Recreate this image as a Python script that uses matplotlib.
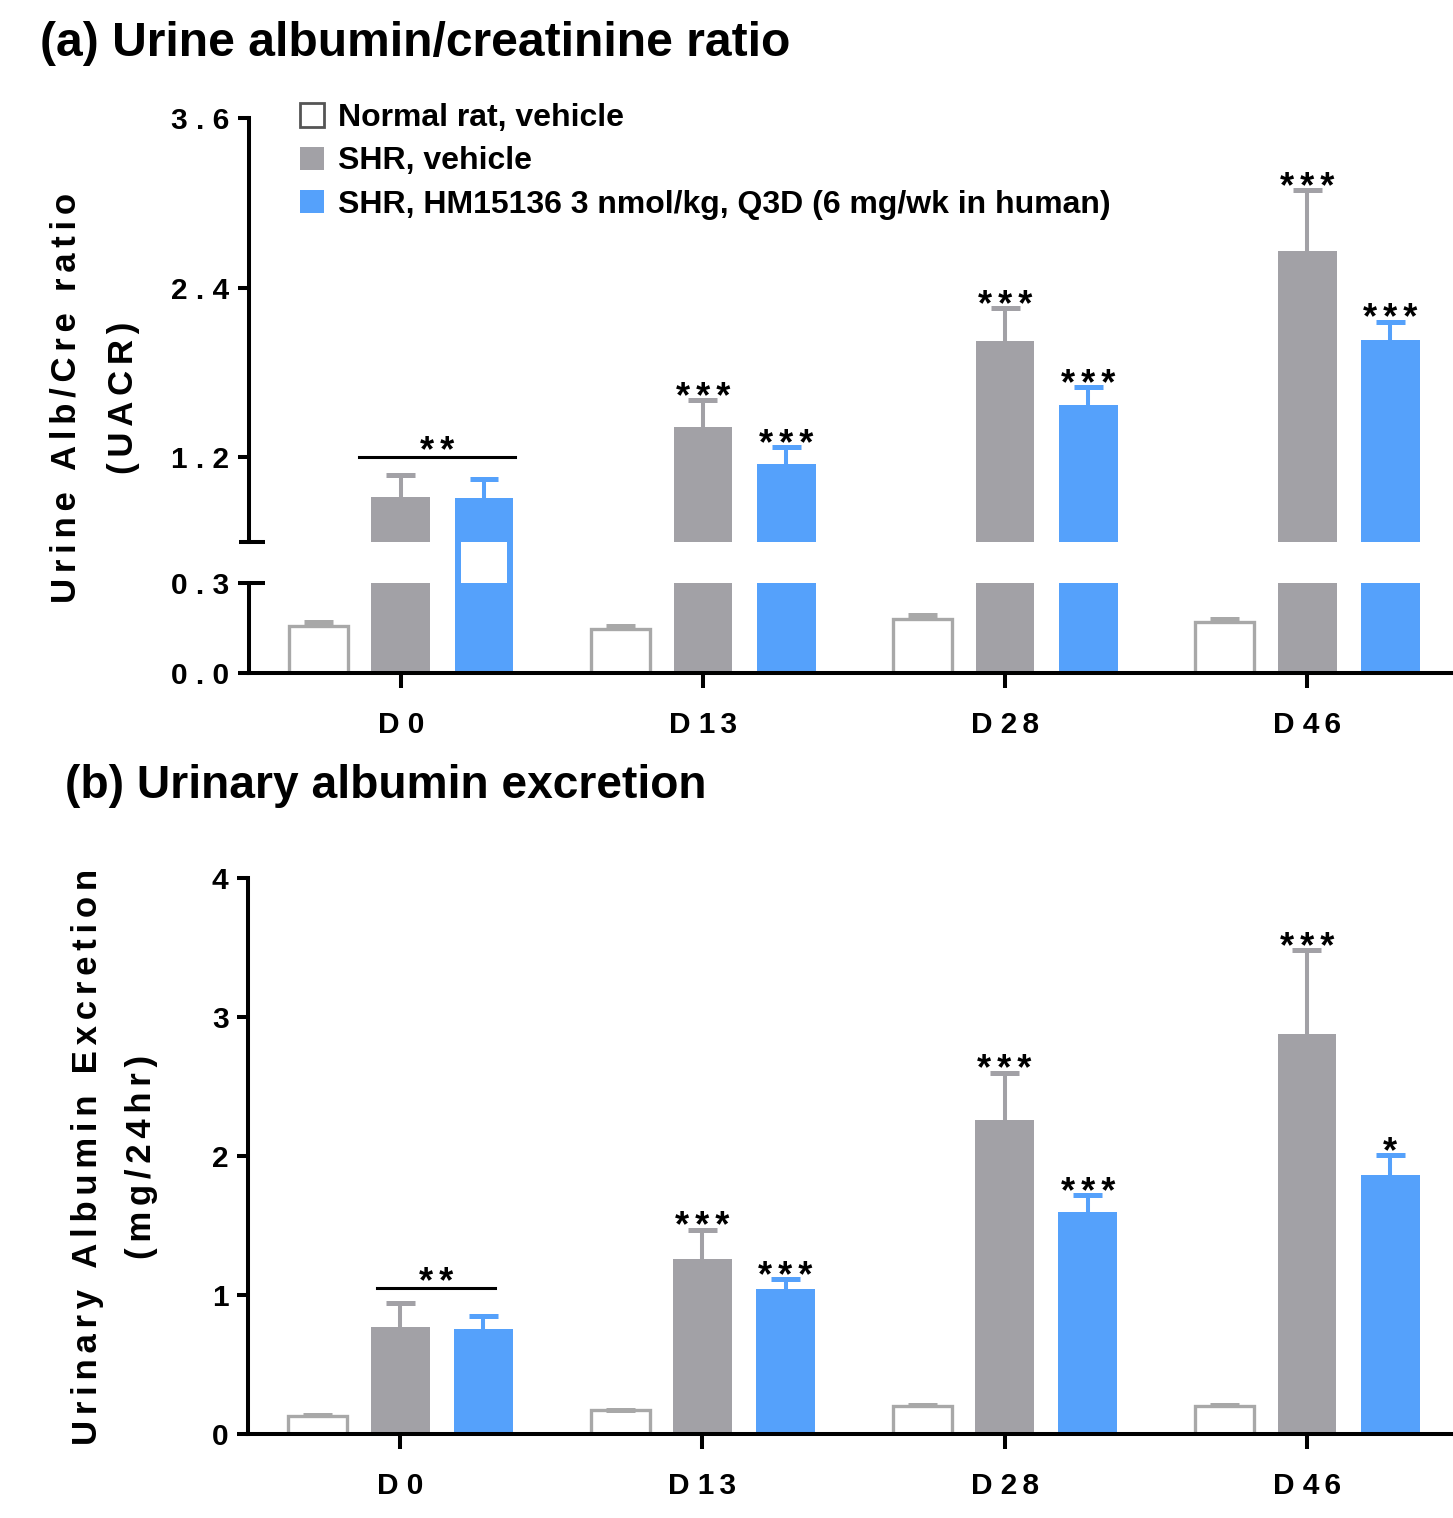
import matplotlib
matplotlib.use("Agg")
import matplotlib.pyplot as plt
import numpy as np
from matplotlib.patches import Patch

plt.rcParams["font.family"] = ["Liberation Sans", "DejaVu Sans"]

SIXTH = "\u2006"

days = ["D 0", "D 1" + SIXTH + "3", "D 2" + SIXTH + "8", "D 4" + SIXTH + "6"]
groups = ["Normal rat, vehicle", "SHR, vehicle",
          "SHR, HM15136 3 nmol/kg, Q3D (6 mg/wk in human)"]

# (a) urine albumin/creatinine ratio, mean and upper SEM
uacr_normal = [0.157, 0.147, 0.179, 0.170]
uacr_normal_err = [0.012, 0.010, 0.014, 0.011]
uacr_shr = [0.917, 1.412, 2.02, 2.66]
uacr_shr_err = [0.16, 0.19, 0.236, 0.43]
uacr_hm = [0.912, 1.15, 1.568, 2.032]
uacr_hm_err = [0.134, 0.12, 0.127, 0.127]
uacr_stars_shr = ["", "***", "***", "***"]
uacr_stars_hm = ["", "***", "***", "***"]
uacr_bracket = 1.2

# (b) urinary albumin excretion (mg/24hr)
uae_normal = [0.129, 0.17, 0.20, 0.20]
uae_normal_err = [0.009, 0.006, 0.010, 0.008]
uae_shr = [0.772, 1.26, 2.26, 2.875]
uae_shr_err = [0.172, 0.21, 0.34, 0.605]
uae_hm = [0.754, 1.045, 1.594, 1.863]
uae_hm_err = [0.095, 0.07, 0.126, 0.144]
uae_stars_shr = ["", "***", "***", "***"]
uae_stars_hm = ["", "***", "***", "*"]
uae_bracket = 1.05

GRAY = "#A2A1A6"
BLUE = "#55A1FB"
EDGE = "#A8A8A8"
W = 0.195
CAP = 0.096
OFF = [-0.272, 0.0, 0.275]
XLIM = (-0.503, 3.483)
FW, FH = 1453, 1518
LW = 2.9

x = np.arange(len(days))


def spaced(s, sep=SIXTH):
    return sep.join(s)


def draw_series(ax, xs, means, errs, face, line, edge=None):
    if edge:
        ax.bar(xs, means, W, color="white", edgecolor=edge, linewidth=2.4)
    else:
        ax.bar(xs, means, W, color=face, linewidth=0)
    # one-sided error bars, upper cap only
    tops = np.add(means, errs)
    ax.vlines(xs, means, tops, color=line, linewidth=2.9)
    ax.hlines(tops, xs - CAP / 2, xs + CAP / 2, color=line, linewidth=3.6)


def add_stars(ax, xs, tops, stars):
    for xi, top, s in zip(xs, tops, stars):
        if s:
            ax.annotate(spaced(s), (xi, top), xytext=(0, -5.5),
                        textcoords="offset points", ha="center",
                        va="baseline", fontsize=26, fontweight="bold")


def style(ax, bottom=True):
    for side in ("top", "right"):
        ax.spines[side].set_visible(False)
    ax.spines["left"].set_linewidth(LW)
    ax.spines["bottom"].set_linewidth(LW)
    ax.spines["bottom"].set_visible(bottom)
    ax.tick_params(axis="y", direction="out", length=8, width=LW, pad=6,
                   labelsize=21.5)
    ax.tick_params(axis="x", direction="out", length=10.5, width=LW, pad=17,
                   labelsize=21.5, bottom=bottom, labelbottom=bottom)
    for lab in ax.get_yticklabels() + ax.get_xticklabels():
        lab.set_fontweight("bold")
    ax.set_xlim(*XLIM)


fig = plt.figure(figsize=(FW / 100, FH / 100), dpi=100)
left_a = 249 / FW
ax_hi = fig.add_axes([left_a, 1 - 542 / FH, 1 - left_a, 424 / FH])
ax_lo = fig.add_axes([left_a, 1 - 673 / FH, 1 - left_a, 90 / FH])
left_b = 248 / FW
ax_b = fig.add_axes([left_b, 1 - 1434 / FH, 1 - left_b, 556 / FH])

# ---- panel (a), broken y axis
for ax in (ax_hi, ax_lo):
    draw_series(ax, x + OFF[0], uacr_normal, uacr_normal_err, "white", EDGE, edge=EDGE)
    draw_series(ax, x + OFF[1], uacr_shr, uacr_shr_err, GRAY, GRAY)
    draw_series(ax, x + OFF[2], uacr_hm, uacr_hm_err, BLUE, BLUE)

ax_hi.set_ylim(0.6, 3.6)
ax_lo.set_ylim(0, 0.3)
ax_hi.set_yticks([1.2, 2.4, 3.6])
ax_hi.set_yticklabels([" ".join(f"{v:.1f}") for v in (1.2, 2.4, 3.6)])
ax_lo.set_yticks([0.0, 0.3])
ax_lo.set_yticklabels([" ".join(f"{v:.1f}") for v in (0.0, 0.3)])
ax_lo.set_xticks(x)
ax_lo.set_xticklabels(days)
style(ax_hi, bottom=False)
style(ax_lo)

# break marks on the y axis
px = 1 / (FW * (1 - left_a))
ax_hi.plot([-10 * px, 16 * px], [0.6, 0.6], color="black", lw=LW,
           transform=ax_hi.get_yaxis_transform(), clip_on=False,
           solid_capstyle="butt")
ax_lo.plot([0, 16 * px], [0.3, 0.3], color="black", lw=LW,
           transform=ax_lo.get_yaxis_transform(), clip_on=False,
           solid_capstyle="butt")

# the D0 HM bar shows a hollow segment inside the axis gap
hi_pos, lo_pos = ax_hi.get_position(), ax_lo.get_position()
units_per_px = (3.6 - 0.6) / (hi_pos.height * FH)
gap = (hi_pos.y0 - lo_pos.y1) * FH * units_per_px
side = 6 / (FW * (1 - left_a)) * (XLIM[1] - XLIM[0])
ax_hi.bar(x[0] + OFF[2], gap, W, bottom=0.6 - gap, color=BLUE, linewidth=0,
          clip_on=False)
ax_hi.bar(x[0] + OFF[2], gap, W - 2 * side, bottom=0.6 - gap, color="white",
          linewidth=0, clip_on=False)

add_stars(ax_hi, x + OFF[1], np.add(uacr_shr, uacr_shr_err), uacr_stars_shr)
add_stars(ax_hi, x + OFF[2], np.add(uacr_hm, uacr_hm_err), uacr_stars_hm)
ax_hi.plot([x[0] - 0.139, x[0] + 0.377], [uacr_bracket] * 2, color="black", lw=2.2)
add_stars(ax_hi, [x[0] + 0.119], [uacr_bracket + 0.02], ["**"])

handles = [Patch(facecolor="white", edgecolor="#555555", linewidth=2),
           Patch(facecolor=GRAY), Patch(facecolor=BLUE)]
ax_hi.legend(handles, groups, loc="upper left",
             bbox_to_anchor=(300 / FW, 1 - 103 / FH),
             bbox_transform=fig.transFigure, frameon=False,
             prop={"size": 23, "weight": "bold"}, handlelength=0.75,
             handleheight=0.75, handletextpad=0.45, labelspacing=0.42,
             borderpad=0, borderaxespad=0)

fig.text(40 / FW, 1 - 43 / FH, "(a) Urine albumin/creatinine ratio",
         fontsize=34.6, fontweight="bold", va="center", ha="left")
fig.text(66 / FW, 1 - 398 / FH, spaced("Urine Alb/Cre ratio"), rotation=90,
         fontsize=25, fontweight="bold", ha="center", va="center")
fig.text(124 / FW, 1 - 398 / FH, spaced("(UACR)"), rotation=90,
         fontsize=25, fontweight="bold", ha="center", va="center")

# ---- panel (b)
draw_series(ax_b, x + OFF[0], uae_normal, uae_normal_err, "white", EDGE, edge=EDGE)
draw_series(ax_b, x + OFF[1], uae_shr, uae_shr_err, GRAY, GRAY)
draw_series(ax_b, x + OFF[2], uae_hm, uae_hm_err, BLUE, BLUE)
ax_b.set_ylim(0, 4)
ax_b.set_yticks([0, 1, 2, 3, 4])
ax_b.set_xticks(x)
ax_b.set_xticklabels(days)
style(ax_b)
add_stars(ax_b, x + OFF[1], np.add(uae_shr, uae_shr_err), uae_stars_shr)
add_stars(ax_b, x + OFF[2], np.add(uae_hm, uae_hm_err), uae_stars_hm)
ax_b.plot([x[0] - 0.076, x[0] + 0.314], [uae_bracket] * 2, color="black", lw=2.2)
add_stars(ax_b, [x[0] + 0.119], [uae_bracket + 0.02], ["**"])

fig.text(65 / FW, 1 - 786 / FH, "(b) Urinary albumin excretion",
         fontsize=33.2, fontweight="bold", va="center", ha="left")
fig.text(88 / FW, 1 - 1157 / FH, spaced("Urinary Albumin Excretion"),
         rotation=90, fontsize=25, fontweight="bold", ha="center", va="center")
fig.text(141 / FW, 1 - 1157 / FH, spaced("(mg/24hr)"), rotation=90,
         fontsize=25, fontweight="bold", ha="center", va="center")

fig.savefig("out.png", dpi=100)
